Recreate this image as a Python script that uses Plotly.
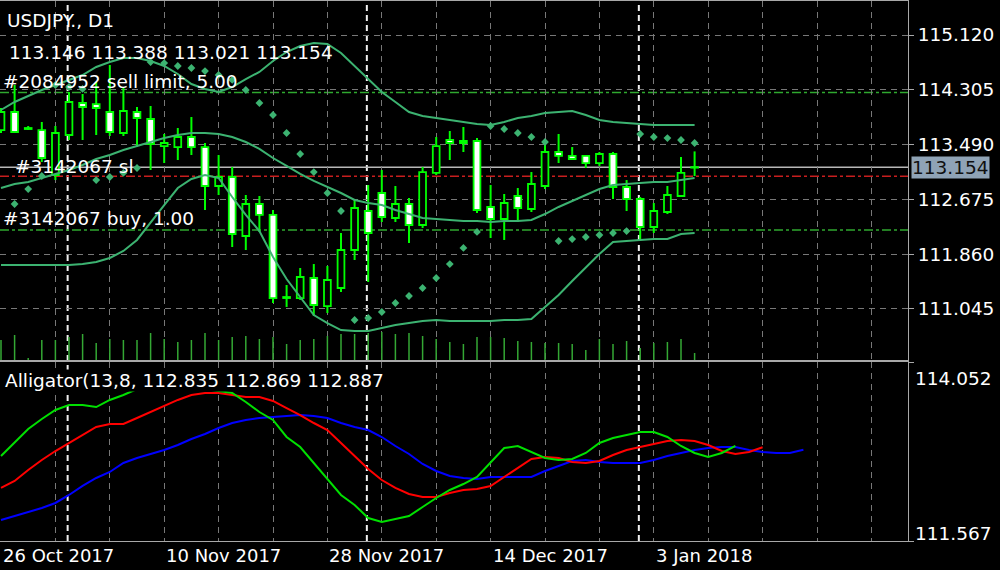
import plotly.graph_objects as go

# ---------------- data ----------------
bars = list(range(52))
opens = [113.706, 113.974, 113.736, 113.706, 113.037, 113.632, 114.108, 114.093, 113.974, 113.662,
         113.974, 113.870, 113.468, 113.453, 113.602, 113.453, 112.873, 113.007, 112.129, 112.605,
         112.442, 111.206, 111.206, 111.504, 111.087, 111.355, 111.921, 112.501, 112.769, 112.397,
         112.605, 112.293, 113.067, 113.558, 113.543, 113.543, 112.561, 112.382, 112.724, 112.531,
         112.873, 113.379, 113.320, 113.320, 113.215, 113.349, 112.858, 112.680, 112.263, 112.486,
         112.724, 113.146]
highs = [114.034, 114.376, 113.766, 113.826, 113.766, 114.272, 114.242, 114.421, 114.674, 114.331,
         114.049, 114.064, 113.647, 113.736, 113.900, 113.513, 113.334, 113.156, 112.739, 112.724,
         112.516, 111.400, 111.653, 111.712, 111.683, 112.174, 112.665, 112.888, 113.111, 112.873,
         112.695, 113.156, 113.602, 113.692, 113.751, 113.587, 112.888, 112.754, 112.843, 113.081,
         113.528, 113.647, 113.453, 113.334, 113.379, 113.379, 112.962, 112.709, 112.620, 112.873,
         113.305, 113.388]
lows = [113.662, 113.662, 113.706, 113.230, 112.962, 113.558, 113.558, 113.632, 113.617, 113.617,
        113.453, 113.111, 113.215, 113.260, 113.334, 112.516, 112.739, 111.965, 111.921, 112.189,
        111.132, 111.073, 111.177, 110.939, 110.983, 111.296, 111.772, 111.445, 112.337, 112.337,
        112.025, 112.248, 113.037, 113.260, 113.379, 112.471, 112.099, 112.070, 112.337, 112.486,
        112.828, 113.215, 113.260, 113.141, 113.171, 112.680, 112.501, 112.084, 112.174, 112.456,
        112.709, 113.021]
closes = [113.974, 113.677, 113.721, 113.290, 113.662, 114.123, 114.049, 114.034, 113.677, 113.989,
          113.885, 113.498, 113.513, 113.602, 113.453, 112.873, 113.007, 112.159, 112.605, 112.442,
          111.206, 111.221, 111.519, 111.102, 111.474, 111.921, 112.546, 112.174, 112.412, 112.605,
          112.293, 113.081, 113.468, 113.513, 113.513, 112.516, 112.382, 112.620, 112.546, 112.903,
          113.379, 113.320, 113.275, 113.215, 113.349, 112.858, 112.680, 112.263, 112.501, 112.739,
          113.067, 113.154]
volumes = [20, 25, 2, 20, 20, 23, 26, 17, 21, 20, 20, 27, 21, 18, 20, 27, 20, 23, 24, 21,
           23, 16, 20, 21, 24, 26, 26, 27, 28, 26, 27, 24, 21, 18, 16, 23, 23, 22, 19, 18,
           17, 17, 16, 10, 21, 16, 19, 12, 17, 18, 21, 7]
bb_upper = [114.004, 114.123, 114.212, 114.302, 114.376, 114.451, 114.525, 114.644, 114.718, 114.778,
            114.778, 114.733, 114.659, 114.540, 114.391, 114.317, 114.272, 114.346, 114.465, 114.570,
            114.733, 114.867, 114.956, 115.001, 114.986, 114.852, 114.659, 114.465, 114.272, 114.123,
            113.974, 113.915, 113.885, 113.855, 113.826, 113.796, 113.781, 113.826, 113.885, 113.915,
            113.959, 113.974, 113.989, 113.930, 113.855, 113.826, 113.811, 113.796, 113.781, 113.781,
            113.781, 113.781]
bb_middle = [112.843, 112.903, 112.933, 112.992, 113.052, 113.111, 113.186, 113.275, 113.334, 113.409,
             113.468, 113.528, 113.587, 113.632, 113.662, 113.662, 113.647, 113.602, 113.528, 113.424,
             113.290, 113.171, 113.052, 112.948, 112.858, 112.769, 112.665, 112.620, 112.590, 112.516,
             112.456, 112.397, 112.382, 112.367, 112.352, 112.352, 112.337, 112.352, 112.352, 112.367,
             112.456, 112.561, 112.650, 112.739, 112.828, 112.888, 112.903, 112.918, 112.933, 112.933,
             112.962, 112.992]
bb_lower = [111.698, 111.698, 111.698, 111.698, 111.698, 111.698, 111.712, 111.742, 111.802, 111.906,
            112.070, 112.337, 112.590, 112.843, 112.977, 113.037, 112.992, 112.709, 112.442, 112.203,
            111.817, 111.489, 111.221, 110.953, 110.834, 110.730, 110.715, 110.715, 110.760, 110.805,
            110.834, 110.864, 110.879, 110.864, 110.864, 110.864, 110.864, 110.879, 110.879, 110.894,
            111.073, 111.251, 111.459, 111.668, 111.861, 112.040, 112.055, 112.070, 112.084, 112.084,
            112.159, 112.174]
sar = [None, 112.605, 112.828, 113.022, 114.376, 114.346, 114.317, 112.962, 113.007, 113.067,
       113.141, 114.718, 114.703, 114.659, 114.629, 114.584, 114.525, 114.451, 114.302, 114.108,
       113.930, 113.662, 113.349, 113.081, 112.769, 112.501, 110.879, 110.909, 110.998, 111.132,
       111.236, 111.355, 111.504, 111.712, 111.951, 112.189, 113.766, 113.721, 113.662, 113.602,
       113.528, 112.055, 112.084, 112.114, 112.144, 112.174, 112.203, 113.647, 113.602, 113.587,
       113.558, 113.513]
# Alligator lines (already shifted forward by 8 / 5 / 3 bars)
jaw = [111.859, 111.914, 111.970, 112.025, 112.095, 112.206, 112.331, 112.442, 112.525, 112.650,
       112.719, 112.775, 112.830, 112.900, 112.983, 113.053, 113.136, 113.205, 113.247, 113.275,
       113.289, 113.302, 113.316, 113.302, 113.275, 113.205, 113.150, 113.108, 113.011, 112.886,
       112.775, 112.636, 112.539, 112.469, 112.442, 112.428, 112.456, 112.456, 112.456, 112.456,
       112.539, 112.608, 112.678, 112.692, 112.664, 112.650, 112.650, 112.650, 112.692, 112.747,
       112.789, 112.830, 112.858, 112.872, 112.872, 112.830, 112.803, 112.789, 112.789, 112.835]
teeth = [112.303, 112.400, 112.553, 112.692, 112.816, 112.928, 113.039, 113.150, 113.191, 113.191,
         113.275, 113.358, 113.441, 113.525, 113.594, 113.622, 113.622, 113.594, 113.566, 113.566,
         113.511, 113.413, 113.316, 113.205, 113.108, 112.928, 112.747, 112.567, 112.414, 112.303,
         112.220, 112.178, 112.178, 112.233, 112.275, 112.289, 112.331, 112.456, 112.580, 112.705,
         112.733, 112.719, 112.664, 112.650, 112.678, 112.761, 112.830, 112.872, 112.914, 112.955,
         112.969, 112.955, 112.900, 112.816, 112.775, 112.803, 112.869]
lips = [112.747, 112.928, 113.122, 113.261, 113.386, 113.455, 113.455, 113.427, 113.525, 113.594,
        113.677, 113.747, 113.816, 113.844, 113.774, 113.677, 113.649, 113.622, 113.497, 113.358,
        113.247, 113.011, 112.872, 112.650, 112.414, 112.206, 112.067, 111.886, 111.831, 111.872,
        111.914, 112.039, 112.164, 112.275, 112.358, 112.456, 112.650, 112.858, 112.886, 112.803,
        112.719, 112.692, 112.705, 112.789, 112.928, 112.997, 113.039, 113.080, 113.080, 113.011,
        112.886, 112.789, 112.733, 112.789, 112.887]

price_ticks = [115.120, 114.305, 113.490, 112.675, 111.860, 111.045]
date_labels = ["26 Oct 2017", "10 Nov 2017", "28 Nov 2017", "14 Dec 2017", "3 Jan 2018"]
date_label_bars = [0, 12, 24, 36, 48]
month_separator_bars = [5, 27, 47]
sell_limit_price = 114.265
sl_price = 113.02
buy_price = 112.22
bid_price = 113.154
alligator_max, alligator_min = 114.052, 111.567
ohlc_text = "113.146 113.388 113.021 113.154"
alligator_text = "Alligator(13,8, 112.835 112.869 112.887"

# ---------------- styling ----------------
W, H = 1000, 570
FONT = "DejaVu Sans"
FS = 18.5
LIME = "#00ff00"
SEA = "#3cb371"
GRID = "#787878"
FRAME = "#a8a8a8"

def py(p):  # pixel row -> paper y
    return 1 - p / H

fig = go.Figure()

# volumes
fig.add_trace(go.Bar(x=bars, y=volumes, width=0.11, marker=dict(color="#34a834", line=dict(width=0)),
                     xaxis="x", yaxis="y3", hoverinfo="skip", showlegend=False))

# wicks (drawn outside the bodies)
wx, wy = [], []
for k, o, h, l, c in zip(bars, opens, highs, lows, closes):
    top, bot = max(o, c), min(o, c)
    wx += [k, k, None, k, k, None]
    wy += [h, top, None, bot, l, None]
fig.add_trace(go.Scatter(x=wx, y=wy, mode="lines", line=dict(color=LIME, width=2),
                         hoverinfo="skip", showlegend=False))

MINB = 0.006
for bull in (True, False):
    xs, base, size = [], [], []
    for k, o, c in zip(bars, opens, closes):
        if (c >= o) == bull:
            xs.append(k)
            base.append(min(o, c))
            size.append(max(abs(c - o), MINB))
    fig.add_trace(go.Bar(x=xs, y=size, base=base, width=0.5,
                         marker=dict(color="#000000" if bull else "#ffffff", line=dict(color=LIME, width=1.8)),
                         hoverinfo="skip", showlegend=False))

# Bollinger bands
for band in (bb_upper, bb_middle, bb_lower):
    fig.add_trace(go.Scatter(x=bars, y=band, mode="lines", line=dict(color=SEA, width=2),
                             hoverinfo="skip", showlegend=False))
# Parabolic SAR
fig.add_trace(go.Scatter(x=bars, y=sar, mode="markers", marker=dict(symbol="diamond", size=6, color=SEA),
                         hoverinfo="skip", showlegend=False))

# Alligator
for vals, col in ((jaw, "#0000ff"), (teeth, "#ff0000"), (lips, "#00e000")):
    fig.add_trace(go.Scatter(x=list(range(len(vals))), y=vals, mode="lines", line=dict(color=col, width=2),
                             xaxis="x2", yaxis="y2", hoverinfo="skip", showlegend=False))

# ---------------- shapes ----------------
shapes = []
for k in month_separator_bars:
    shapes.append(dict(type="line", xref="x", yref="paper", x0=k - 0.1, x1=k - 0.1, y0=py(541), y1=py(1),
                       line=dict(color="#f0f0f0", width=2, dash="6px,4px"), layer="between"))
order_lines = [(sell_limit_price, "#2fa82f", "dashdot"), (buy_price, "#2fa82f", "dashdot"),
               (sl_price, "#c81e1e", "dashdot"), (bid_price, "#b8b8b8", "solid")]
for p, col, dash in order_lines:
    shapes.append(dict(type="line", xref="paper", yref="y", x0=0, x1=0.908, y0=p, y1=p,
                       line=dict(color=col, width=1.5, dash=dash), layer="between"))

# ---------------- annotations ----------------
ann = []
def txt(s, x, y, **kw):
    d = dict(text=s, x=x / W, y=py(y), xref="paper", yref="paper", xanchor="left", yanchor="middle",
             showarrow=False, font=dict(family=FONT, size=FS, color="#ffffff"), borderpad=0)
    d.update(kw)
    ann.append(d)

txt("USDJPY., D1", 6, 20)
txt(ohlc_text, 8, 52)
txt("#2084952 sell limit, 5.00", 2, 81)
txt("#3142067 sl", 14, 166)
txt("#3142067 buy, 1.00", 2, 219)
txt(alligator_text, 4, 380, bgcolor="#000000")
txt(f"{alligator_max:.3f}", 914, 378)
txt(f"{alligator_min:.3f}", 914, 533)
txt(f"{bid_price:.3f}", 911, 167, bgcolor="#8fa3b6", font=dict(family=FONT, size=FS, color="#111111"))
for k, s in zip(date_label_bars, date_labels):
    ann.append(dict(text=s, x=k, xref="x", y=py(555), yref="paper", xanchor="left", yanchor="middle",
                    showarrow=False, font=dict(family=FONT, size=18, color="#ffffff")))

# ---------------- layout ----------------
xr = [-1 / 13.6, 907 / 13.6]
grid_ticks = list(range(0, 68, 4))
xcommon = dict(range=xr, tickvals=grid_ticks, showticklabels=False, ticks="", showgrid=True,
               gridcolor=GRID, griddash="6px,5px", gridwidth=1, zeroline=False,
               showline=True, linecolor=FRAME, mirror=True, linewidth=1, domain=[0, 0.908], fixedrange=True)

fig.update_layout(
    width=W, height=H, margin=dict(l=0, r=0, t=0, b=0),
    paper_bgcolor="#000000", plot_bgcolor="#000000", barmode="overlay", showlegend=False,
    xaxis=dict(anchor="y", **xcommon),
    xaxis2=dict(anchor="y2", matches="x", **xcommon),
    yaxis=dict(domain=[py(360), py(1)], range=[115.641 - 360 / 67.2, 115.641 - 1 / 67.2], side="right",
               tickvals=price_ticks, ticktext=[f"{v:.3f}" for v in price_ticks], ticks="outside", ticklen=5,
               tickcolor=FRAME, tickfont=dict(family=FONT, size=FS, color="#ffffff"),
               showgrid=True, gridcolor=GRID, griddash="6px,5px", zeroline=False,
               showline=True, linecolor=FRAME, mirror=True, anchor="x"),
    yaxis2=dict(domain=[py(541), py(362)], range=[alligator_min, alligator_max], side="right",
                tickvals=[alligator_min, alligator_max], showticklabels=False, ticks="outside", ticklen=5,
                tickcolor=FRAME, showgrid=False, zeroline=False,
                showline=True, linecolor=FRAME, mirror=True, anchor="x2"),
    yaxis3=dict(overlaying="y", range=[0, 359], visible=False, anchor="x"),
    shapes=shapes, annotations=ann,
)

fig.write_html("out.html", config={"staticPlot": True},
               post_script="document.body.style.margin='0';document.body.style.background='#000';")
